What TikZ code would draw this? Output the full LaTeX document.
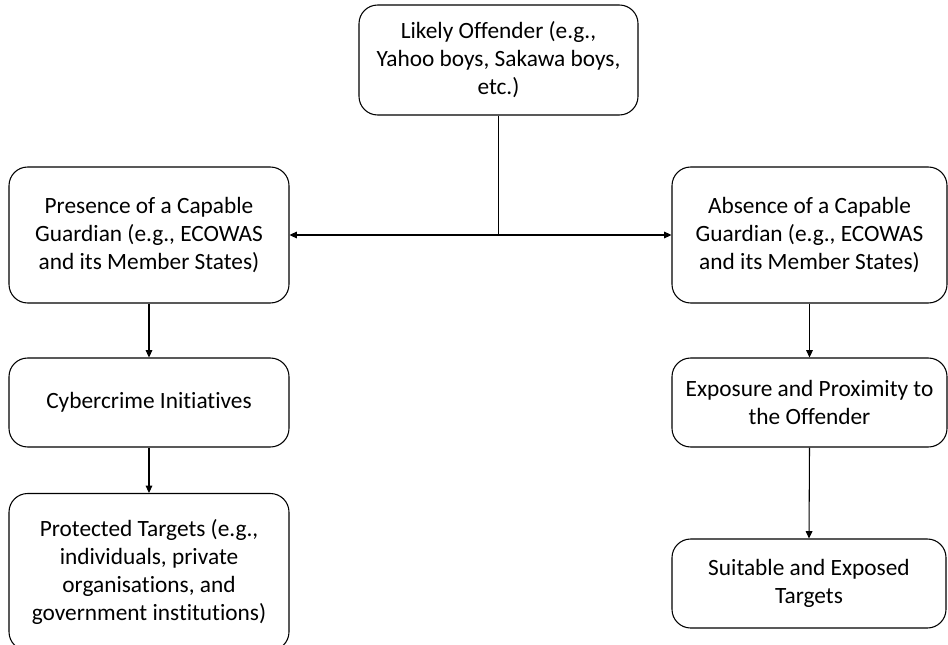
\documentclass[tikz,border=0pt]{standalone}
\usepackage{fontspec}
\setmainfont{Carlito}[Ligatures={NoCommon,NoDiscretionary,NoRare}]
\usetikzlibrary{arrows.meta}
\tikzset{
  box/.style={draw=black, line width=0.8pt, rounded corners=14pt, align=center,
    inner sep=0pt, font=\fontsize{17.5}{21}\selectfont, text=black},
  conn/.style={line width=0.8pt, draw=black},
  arr/.style={conn, -{Triangle[length=5.5pt,width=5pt]}},
}
\begin{document}
\begin{tikzpicture}[x=0.75pt,y=-0.75pt]
\useasboundingbox (0,0) rectangle (948,645);
\fill[white] (0,0) rectangle (948,645);
\node[box, minimum width=279*0.75pt, minimum height=110*0.75pt] (off) at (498.5,60)
  {Likely Offender (e.g.,\\ Yahoo boys, Sakawa boys,\\ etc.)};
\node[box, minimum width=280*0.75pt, minimum height=136*0.75pt] (pres) at (149,235)
  {Presence of a Capable\\ Guardian (e.g., ECOWAS\\ and its Member States)};
\node[box, minimum width=275*0.75pt, minimum height=136*0.75pt] (abs) at (809.5,235)
  {Absence of a Capable\\ Guardian (e.g., ECOWAS\\ and its Member States)};
\node[box, minimum width=280*0.75pt, minimum height=89*0.75pt] (cyber) at (149,402.5)
  {Cybercrime Initiatives};
\node[box, minimum width=275*0.75pt, minimum height=89*0.75pt] (expo) at (809.5,402.5)
  {Exposure and Proximity to\\ the Offender};
\node[box, minimum width=280*0.75pt, minimum height=157*0.75pt] (prot) at (149,572)
  {Protected Targets (e.g.,\\ individuals, private\\ organisations, and\\ government institutions)};
\node[box, minimum width=274*0.75pt, minimum height=89*0.75pt] (suit) at (809,583.5)
  {Suitable and Exposed\\ Targets};
\coordinate (j) at (off.south |- pres.east);
\draw[conn] (off.south) -- (j);
\draw[arr] (j) -- (pres.east);
\draw[arr] (j) -- (abs.west);
\draw[arr] (pres.south) -- (cyber.north);
\draw[arr] (cyber.south) -- (prot.north);
\draw[arr] (abs.south) -- (expo.north);
\draw[arr] (expo.south) -- (suit.north);
\end{tikzpicture}
\end{document}
